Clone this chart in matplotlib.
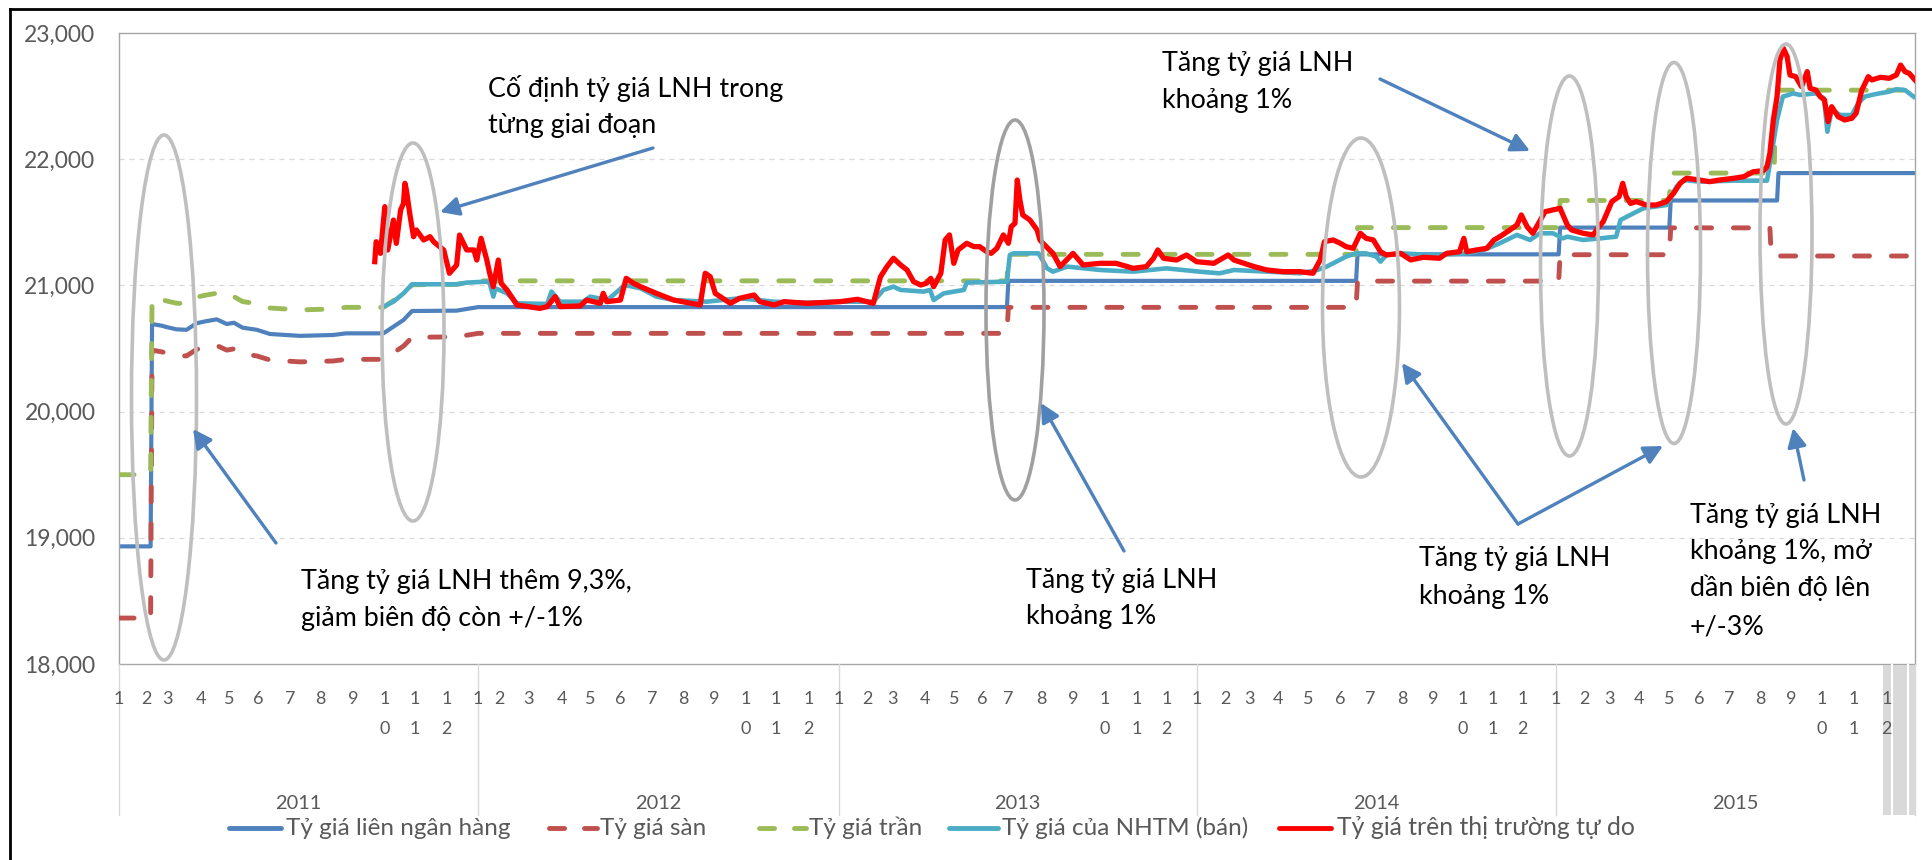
import matplotlib
matplotlib.use("Agg")

import matplotlib.pyplot as plt
import matplotlib.transforms as mtransforms
from matplotlib.lines import Line2D
from matplotlib.patches import Ellipse, Rectangle, FancyArrowPatch

plt.rcParams["font.family"] = ["Lato", "DejaVu Sans"]

W, H = 1932, 860

years = [2011, 2012, 2013, 2014, 2015]
# trading days in each month (Jan..Dec), the category axis is per trading day
days_2011 = [19, 15, 23, 20, 20, 22, 21, 23, 22, 21, 22, 22]
days_2012 = [15, 20, 23, 20, 21, 22, 22, 21, 22, 21, 23, 21]
days_2013 = [20, 17, 23, 20, 20, 18, 23, 22, 22, 22, 21, 21]
days_2014 = [20, 17, 20, 21, 22, 21, 22, 22, 20, 21, 21, 23]
days_2015 = [20, 17, 21, 21, 21, 21, 21, 22, 21, 22, 23, 20]
month_days = [days_2011, days_2012, days_2013, days_2014, days_2015]

yticks = [18000, 19000, 20000, 21000, 22000, 23000]

# Tỷ giá liên ngân hàng (day index, VND/USD)
ib_day = [0, 22, 23, 25, 30, 33, 40, 47, 54, 60, 68, 72, 75, 80, 86, 96, 105, 126,
          149, 158, 184, 191, 198, 204, 235, 250, 618, 619, 861, 862, 1002, 1003,
          1079, 1080, 1154, 1155, 1250]
ib_rate = [18932, 18932, 20693, 20690, 20680, 20670, 20652, 20648, 20700, 20715,
           20731, 20710, 20694, 20704, 20665, 20648, 20615, 20600, 20607, 20620,
           20620, 20673, 20726, 20797, 20800, 20828, 20828, 21036, 21036, 21246,
           21246, 21458, 21458, 21673, 21673, 21890, 21890]

# Tỷ giá sàn
floor_day = [0, 22, 23, 25, 30, 33, 40, 47, 54, 60, 68, 72, 75, 80, 86, 96, 105, 126,
             149, 158, 184, 191, 198, 204, 235, 250, 618, 619, 861, 862, 1002, 1003,
             1079, 1080, 1149, 1150, 1250]
floor_rate = [18364, 18364, 20486, 20483, 20473, 20463, 20445, 20441, 20493, 20508,
              20524, 20503, 20487, 20497, 20458, 20441, 20409, 20394, 20401, 20414,
              20414, 20466, 20519, 20589, 20592, 20620, 20620, 20826, 20826, 21034,
              21034, 21243, 21243, 21456, 21456, 21233, 21233]

# Tỷ giá trần
ceil_day = [0, 22, 23, 25, 30, 33, 40, 47, 54, 60, 68, 72, 75, 80, 86, 96, 105, 126,
            149, 158, 184, 191, 198, 204, 235, 250, 618, 619, 861, 862, 1002, 1003,
            1079, 1080, 1152, 1153, 1250]
ceil_rate = [19500, 19500, 20900, 20897, 20887, 20877, 20859, 20855, 20907, 20922,
             20938, 20917, 20901, 20911, 20872, 20855, 20821, 20806, 20813, 20826,
             20826, 20880, 20933, 21005, 21008, 21036, 21036, 21246, 21246, 21458,
             21458, 21673, 21673, 21890, 21890, 22547, 22547]

# Tỷ giá của NHTM (bán)
nhtm_day = [184, 191, 198, 204, 235, 242, 256, 258, 260.5, 262, 270, 277, 298, 301,
            307, 323, 328, 340, 352, 363, 374, 386, 409, 432, 456, 479, 502, 525,
            532, 539, 544, 560, 564.5, 567, 574, 588, 590, 618, 620, 622.5, 640, 646,
            650, 660, 683, 706, 729, 752, 766, 776, 799, 822, 834, 840.5, 845, 854,
            861, 868, 875, 878, 882, 892, 915, 938, 950, 961, 973, 982, 989, 998,
            1005, 1008, 1019, 1031, 1042, 1045, 1054, 1061, 1077, 1084, 1089, 1100,
            1124, 1147, 1151, 1154, 1158, 1162, 1165, 1170, 1181, 1186.7, 1189, 1192,
            1198, 1206, 1210.5, 1215, 1223, 1232, 1237, 1243, 1249]
nhtm_rate = [20831, 20871, 20937, 21009, 21009, 21022, 21030, 21017, 20911, 20977,
             20937, 20858, 20853, 20951, 20871, 20871, 20911, 20884, 21003, 20977,
             20911, 20884, 20871, 20898, 20871, 20863, 20871, 20871, 20964, 20990,
             20964, 20951, 20964, 20884, 20937, 20964, 21022, 21030, 21241, 21254,
             21254, 21135, 21109, 21149, 21122, 21109, 21135, 21109, 21096, 21122,
             21109, 21096, 21122, 21149, 21175, 21228, 21254, 21254, 21228, 21188,
             21241, 21254, 21241, 21254, 21281, 21334, 21400, 21360, 21413, 21413,
             21373, 21386, 21360, 21373, 21386, 21518, 21571, 21611, 21637, 21782,
             21835, 21822, 21830, 21830, 22099, 22311, 22496, 22509, 22522, 22509,
             22522, 22482, 22218, 22390, 22350, 22350, 22443, 22496, 22517, 22535,
             22554, 22548, 22496]

# Tỷ giá trên thị trường tự do
free_day = [178, 179, 182, 185, 187, 191, 193, 196, 198, 199, 200, 202.5, 205, 207,
            212, 216.5, 219, 226, 230, 235, 237, 242, 247, 249, 252, 256, 258, 260.5,
            264, 266, 270, 277, 293, 298, 303.5, 307, 321, 325.5, 335, 337, 339.5,
            349, 353, 358, 363, 374, 386, 404.5, 408, 411.5, 415, 425.5, 432, 442,
            446, 456, 463, 479, 502, 514, 525, 530, 534.5, 539, 544, 548.5, 553, 558,
            562, 565, 567, 572, 575, 578, 581, 584, 590, 595, 599, 604, 607, 611,
            615.5, 619, 621, 623.6, 625.2, 627, 629, 634, 639, 641, 643, 650, 655,
            664, 671, 683, 694, 706, 715, 720, 723, 727, 736, 743, 750, 762, 772, 776,
            790, 799, 810, 822, 831, 836, 839, 845, 850, 854, 859, 864, 868, 873, 878,
            882, 892, 899, 908, 919, 924, 933, 936, 938, 945, 952, 957, 961, 968, 973,
            976, 980, 984, 988, 992.5, 998, 1003, 1005, 1008, 1011, 1019, 1026, 1030,
            1033, 1039, 1044, 1046.6, 1049, 1052, 1056, 1063, 1070, 1077, 1082, 1086.5,
            1091, 1100, 1107, 1114, 1124, 1131, 1137.5, 1144.5, 1147, 1149, 1151.4,
            1154, 1156, 1158.4, 1161, 1163, 1167, 1171, 1175, 1177, 1181, 1184, 1187,
            1189.5, 1192, 1196.5, 1201, 1206, 1209, 1213, 1217.5, 1220, 1226, 1232,
            1237, 1240, 1243, 1246, 1250]
free_rate = [21188, 21346, 21254, 21624, 21280, 21518, 21333, 21597, 21650, 21809,
             21756, 21558, 21386, 21439, 21360, 21386, 21346, 21280, 21096, 21162,
             21399, 21281, 21281, 21201, 21373, 21201, 21096, 20990, 21201, 21017,
             20964, 20845, 20818, 20832, 20911, 20832, 20837, 20884, 20858, 20937,
             20871, 20884, 21056, 21017, 20990, 20937, 20884, 20845, 21096, 21069,
             20937, 20858, 20898, 20924, 20871, 20845, 20871, 20858, 20871, 20890,
             20858, 21069, 21149, 21215, 21162, 21122, 21030, 21003, 21017, 21056,
             20990, 21096, 21360, 21400, 21175, 21281, 21334, 21307, 21307, 21267,
             21254, 21294, 21400, 21334, 21466, 21492, 21835, 21677, 21558, 21518,
             21439, 21360, 21334, 21254, 21149, 21254, 21162, 21175, 21175, 21135,
             21149, 21215, 21281, 21215, 21201, 21241, 21188, 21175, 21241, 21201,
             21149, 21122, 21109, 21109, 21096, 21201, 21347, 21360, 21334, 21307,
             21294, 21413, 21373, 21360, 21267, 21241, 21254, 21202, 21223, 21215,
             21254, 21267, 21373, 21267, 21281, 21294, 21360, 21386, 21439, 21479,
             21558, 21466, 21413, 21492, 21584, 21598, 21611, 21558, 21479, 21439,
             21413, 21400, 21466, 21505, 21664, 21703, 21809, 21703, 21650, 21664,
             21637, 21637, 21664, 21730, 21809, 21849, 21835, 21822, 21835, 21849,
             21862, 21901, 21909, 21941, 22047, 22311, 22496, 22786, 22878, 22813,
             22667, 22654, 22575, 22694, 22562, 22548, 22496, 22469, 22298, 22416,
             22337, 22311, 22324, 22364, 22548, 22654, 22628, 22649, 22641, 22667,
             22746, 22694, 22680, 22628]

BLUE = "#4F81BD"
RED_D = "#C0504D"
GREEN = "#9BBB59"
CYAN = "#4BACC6"
RED = "#FF0000"
TXT = "#595959"


def fx(x):
    return x / W


def fy(y):
    return 1 - y / H


def month_starts():
    starts = []
    pos = 0
    for yr in month_days:
        row = []
        for n in yr:
            row.append(pos)
            pos += n
        starts.append(row)
    return starts, pos


def draw_chart():
    fig = plt.figure(figsize=(W / 100, H / 100), dpi=100)
    ax = fig.add_axes([fx(119), fy(664), fx(1915) - fx(119), fy(33) - fy(664)])

    starts, total = month_starts()
    ax.set_xlim(0, total)
    ax.set_ylim(yticks[0], yticks[-1])

    for v in yticks[1:-1]:
        ax.axhline(v, color="#D9D9D9", lw=0.9, ls=(0, (4, 4)), zorder=0)

    ax.plot(ib_day, ib_rate, color=BLUE, lw=3.0, solid_joinstyle="round", zorder=2)
    ax.plot(floor_day, floor_rate, color=RED_D, lw=3.5, dashes=(3.1, 4.5),
            dash_capstyle="round", dash_joinstyle="round", zorder=3)
    ax.plot(ceil_day, ceil_rate, color=GREEN, lw=3.5, dashes=(3.1, 4.5),
            dash_capstyle="round", dash_joinstyle="round", zorder=4)
    ax.plot(nhtm_day, nhtm_rate, color=CYAN, lw=3.3, solid_joinstyle="round", zorder=5)
    ax.plot(free_day, free_rate, color=RED, lw=3.8, solid_joinstyle="round", zorder=6)

    ax.set_yticks(yticks)
    ax.set_yticklabels([f"{v:,}" for v in yticks])
    ax.tick_params(axis="y", length=0, pad=17, labelsize=16.5, labelcolor=TXT)
    ax.set_xticks([])
    for s in ax.spines.values():
        s.set_color("#A6A6A6")
        s.set_linewidth(1.0)

    xfig = mtransforms.blended_transform_factory(ax.transData, fig.transFigure)

    # odd grey cells under the last month
    fig.add_artist(Rectangle((fx(1883), fy(815)), fx(1915) - fx(1883), fy(665) - fy(815),
                             transform=fig.transFigure, fc="#D9D9D9", ec="none", zorder=1))
    for xl in [1891.5, 1908]:
        fig.add_artist(Line2D([fx(xl), fx(xl)], [fy(815), fy(665)], transform=fig.transFigure,
                              color="white", lw=1.5, zorder=1.1))

    # month labels (two-digit months wrap onto two rows) and year labels
    for yi, row in enumerate(starts):
        for m, x in enumerate(row, start=1):
            for k, ch in enumerate(str(m)):
                fig.text(x, fy(703.5 + 30 * k), ch, transform=xfig, ha="center",
                         va="baseline", fontsize=13, color=TXT, zorder=3)
        end = starts[yi + 1][0] if yi + 1 < len(starts) else total
        fig.text((row[0] + end) / 2, fy(809), str(years[yi]), transform=xfig,
                 ha="center", va="baseline", fontsize=14.4, color=TXT)

    for x in [row[0] for row in starts] + [total]:
        fig.add_artist(Line2D([x, x], [fy(664), fy(815)], transform=xfig,
                              color="#D9D9D9", lw=1.0))

    # ellipses
    ellipses = [(164, 397.5, 65, 525, "#BFBFBF"), (413, 332, 62, 378, "#BFBFBF"),
                (1015, 310, 58, 380, "#A0A0A0"), (1361, 307.5, 77, 339, "#BFBFBF"),
                (1569.5, 266, 58, 380, "#BFBFBF"), (1674, 253, 53, 381, "#BFBFBF"),
                (1786, 234, 52, 380, "#BFBFBF")]
    for cx, cy, w, h, c in ellipses:
        fig.add_artist(Ellipse((fx(cx), fy(cy)), w / W, h / H, transform=fig.transFigure,
                               fill=False, ec=c, lw=2.6, zorder=4))

    # arrows
    arrows = [((653, 148), (440, 212)), ((1380, 79), (1530, 151)),
              ((276, 543), (193, 429)), ((1124, 551), (1041, 403)),
              ((1518, 524), (1402, 363)), ((1518, 524), (1663, 446)),
              ((1804, 480), (1793, 428))]
    for (x0, y0), (x1, y1) in arrows:
        fig.add_artist(FancyArrowPatch((fx(x0), fy(y0)), (fx(x1), fy(y1)),
                                       transform=fig.transFigure,
                                       arrowstyle="-|>,head_length=0.75,head_width=0.38",
                                       mutation_scale=15, color=BLUE, lw=2.4,
                                       shrinkA=0, shrinkB=0, zorder=5))

    notes = [
        (488, [97, 133], ["Cố định tỷ giá LNH trong", "từng giai đoạn"]),
        (1162, [71, 108], ["Tăng tỷ giá LNH", "khoảng 1%"]),
        (301, [589, 626], ["Tăng tỷ giá LNH thêm 9,3%,", "giảm biên độ còn +/-1%"]),
        (1026, [588, 624], ["Tăng tỷ giá LNH", "khoảng 1%"]),
        (1419, [566, 604], ["Tăng tỷ giá LNH", "khoảng 1%"]),
        (1690, [523, 559, 596, 634], ["Tăng tỷ giá LNH", "khoảng 1%, mở",
                                      "dần biên độ lên", "+/-3%"]),
    ]
    for x, ys, lines in notes:
        for y, s in zip(ys, lines):
            fig.text(fx(x), fy(y), s, ha="left", va="baseline", fontsize=19.4, color="black")

    # legend
    legend = [
        ((229, 281), "solid", BLUE, 286, "Tỷ giá liên ngân hàng", 17.5),
        ((549, 597), "dash", RED_D, 600, "Tỷ giá sàn", 17.5),
        ((759, 806), "dash", GREEN, 809, "Tỷ giá trần", 17.5),
        ((949, 998), "solid", CYAN, 1002, "Tỷ giá của NHTM (bán)", 17.5),
        ((1279, 1331), "solid", RED, 1337, "Tỷ giá trên thị trường tự do", 17.8),
    ]
    for (x0, x1), style, c, tx, label, fs in legend:
        kw = dict(color=c, lw=3.5, solid_capstyle="round", transform=fig.transFigure)
        if style == "dash":
            kw.update(dashes=(3.1, 4.1), dash_capstyle="round")
        fig.add_artist(Line2D([fx(x0), fx(x1)], [fy(828), fy(828)], **kw))
        fig.text(fx(tx), fy(835), label, ha="left", va="baseline", fontsize=fs, color=TXT)

    # outer chart border (top and left visible)
    fig.add_artist(Line2D([fx(10), 1], [fy(9), fy(9)], transform=fig.transFigure,
                          color="black", lw=2))
    fig.add_artist(Line2D([fx(10), fx(10)], [fy(9), 0], transform=fig.transFigure,
                          color="black", lw=2))

    fig.savefig("out.png", dpi=100)
    plt.close(fig)


if __name__ == "__main__":
    draw_chart()
